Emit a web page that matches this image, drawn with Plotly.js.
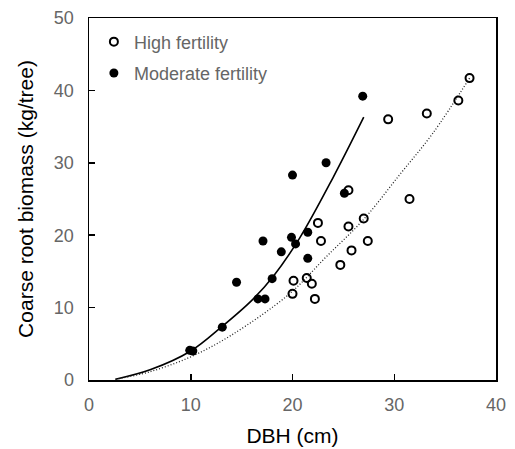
<!DOCTYPE html>
<html>
<head>
<meta charset="utf-8">
<script src="https://cdn.plot.ly/plotly-3.0.1.min.js"></script>
<style>html,body{margin:0;padding:0;background:#fff;}#chart{width:515px;height:449px;}</style>
</head>
<body>
<div id="chart"></div>
<script>
// High fertility observations (open circles)
var highDBH = [22.5, 22.8, 25.5, 27.0, 27.4, 25.8, 24.7, 20.1, 20.0, 21.4, 21.9, 22.2, 31.5, 37.4, 36.3, 33.2, 29.4, 25.5];
var highBiomass = [21.7, 19.2, 21.2, 22.3, 19.2, 17.9, 15.9, 13.7, 11.9, 14.1, 13.3, 11.2, 25.0, 41.7, 38.6, 36.8, 36.0, 26.2];

// Moderate fertility observations (filled circles)
var modDBH = [9.9, 10.2, 13.1, 14.5, 16.6, 17.3, 17.1, 18.0, 18.9, 19.9, 20.3, 21.5, 21.5, 20.0, 23.3, 25.1, 26.9];
var modBiomass = [4.1, 4.0, 7.3, 13.5, 11.2, 11.2, 19.2, 14.0, 17.7, 19.7, 18.8, 20.4, 16.8, 28.3, 30.0, 25.8, 39.2];

// Fitted curves
var modFitDBH = [2.6, 6, 10, 13, 16, 18.1, 20.7, 24, 27.0];
var modFitBiomass = [0.1, 1.4, 4.0, 7.3, 11.0, 14.3, 19.6, 28.0, 36.3];
var highFitDBH = [2.6, 6, 10, 14, 19.7, 23.3, 27.0, 30.5, 33.8, 37.4];
var highFitBiomass = [0.1, 1.15, 3.2, 6.2, 11.9, 17.0, 22.2, 28.3, 34.1, 41.7];

var xTitle = 'DBH (cm)';
var yTitle = 'Coarse root biomass (kg/tree)';
var seriesNames = ['High fertility', 'Moderate fertility'];

var FONT = 'Arial, "Liberation Sans", sans-serif';

var traces = [
  {x: modFitDBH, y: modFitBiomass, mode: 'lines', line: {color: '#000', width: 1.6, shape: 'spline', smoothing: 1}, showlegend: false, hoverinfo: 'skip'},
  {x: highFitDBH, y: highFitBiomass, mode: 'lines', line: {color: '#222', width: 1.3, dash: '1px,2px', shape: 'spline', smoothing: 1}, showlegend: false, hoverinfo: 'skip'},
  {x: highDBH, y: highBiomass, mode: 'markers', name: seriesNames[0], legendgroup: 'a',
   marker: {symbol: 'circle-open', size: 8, color: '#000', line: {width: 2, color: '#000'}}},
  {x: modDBH, y: modBiomass, mode: 'markers', name: seriesNames[1], legendgroup: 'b',
   marker: {symbol: 'circle', size: 9, color: '#000'}}
];

var axisCommon = {
  showline: true, mirror: true, linecolor: '#000', linewidth: 1.5,
  ticks: 'inside', ticklen: 6, tickwidth: 1.5, tickcolor: '#000',
  showgrid: false, zeroline: false,
  tickfont: {family: FONT, size: 18, color: '#666'},
  dtick: 10, tick0: 0
};

var layout = {
  width: 515, height: 449,
  margin: {l: 89, r: 19, t: 18, b: 69},
  paper_bgcolor: '#fff', plot_bgcolor: '#fff',
  font: {family: FONT},
  xaxis: Object.assign({}, axisCommon, {range: [0, 40], ticklabelstandoff: 8,
    title: {text: xTitle, font: {family: FONT, size: 21, color: '#000'}, standoff: 14}}),
  yaxis: Object.assign({}, axisCommon, {range: [0, 50], ticklabelstandoff: 10,
    title: {text: yTitle, font: {family: FONT, size: 21, color: '#000'}, standoff: 14}}),
  showlegend: true,
  legend: {x: 0.012, y: 0.985, xanchor: 'left', yanchor: 'top', bgcolor: 'rgba(0,0,0,0)',
    font: {family: FONT, size: 18, color: '#666'}, tracegroupgap: 5, traceorder: 'grouped'}
};

Plotly.newPlot('chart', [traces[0], traces[1], traces[2], traces[3]], layout, {displayModeBar: false, staticPlot: true});
</script>
</body>
</html>
